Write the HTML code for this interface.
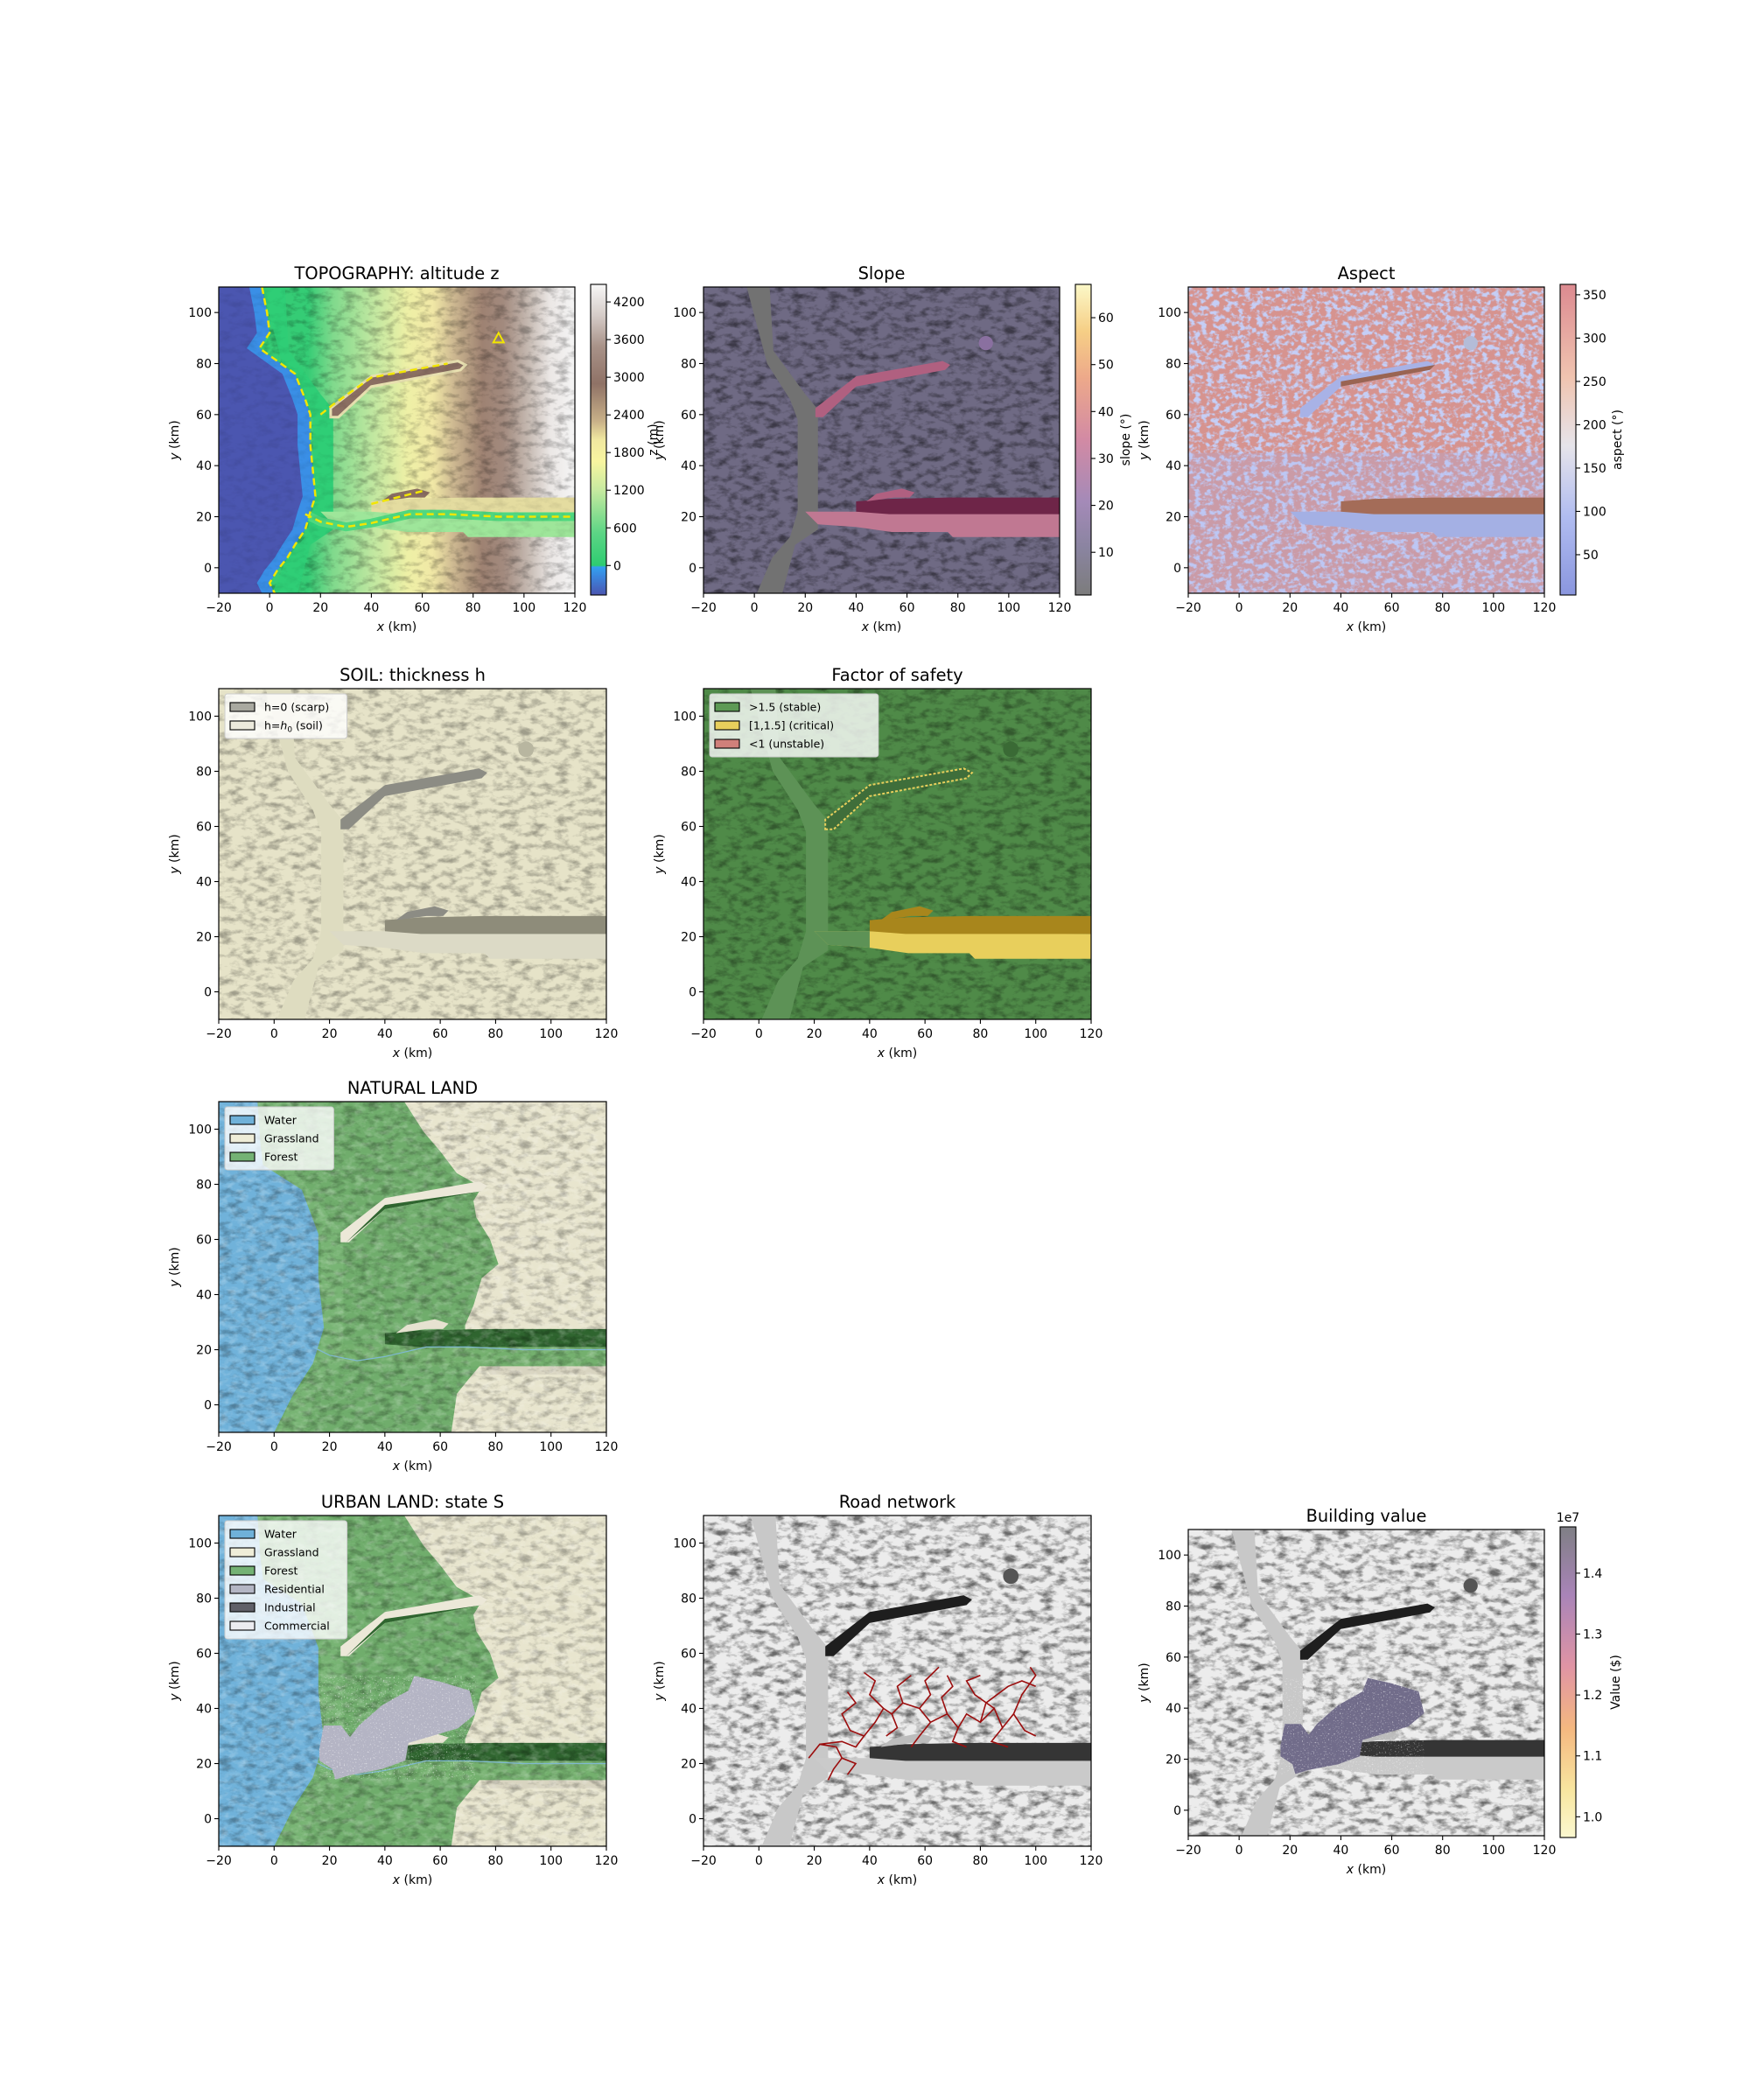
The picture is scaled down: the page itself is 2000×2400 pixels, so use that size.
<!DOCTYPE html>
<html><head><meta charset="utf-8">
<style>
html,body{margin:0;padding:0;background:#fff;}
svg{display:block;font-family:"DejaVu Sans","Liberation Sans",sans-serif;}
</style></head>
<body>
<svg id="fig" width="2000" height="2400" viewBox="0 0 2000 2400" xmlns="http://www.w3.org/2000/svg">
<defs>
<filter id="hs" x="0" y="0" width="1" height="1"><feTurbulence type="fractalNoise" baseFrequency="0.07 0.13" numOctaves="4" seed="7"/><feColorMatrix type="matrix" values="0 0 0 0 0  0 0 0 0 0  0 0 0 0 0  0 0 -2.6 0 1.45"/></filter>
<filter id="hl" x="0" y="0" width="1" height="1"><feTurbulence type="fractalNoise" baseFrequency="0.09 0.15" numOctaves="3" seed="11"/><feColorMatrix type="matrix" values="0 0 0 0 1  0 0 0 0 1  0 0 0 0 1  0 0 2.4 0 -1.1"/></filter>
<filter id="asp" x="0" y="0" width="1" height="1"><feTurbulence type="fractalNoise" baseFrequency="0.14 0.18" numOctaves="3" seed="4"/><feColorMatrix type="matrix" values="0 0 0 0 0.56  0 0 0 0 0.62  0 0 0 0 0.92  5 0 0 0 -2.3"/></filter>
<filter id="speck" x="0" y="0" width="1" height="1"><feTurbulence type="fractalNoise" baseFrequency="0.6" numOctaves="1" seed="2"/><feColorMatrix type="matrix" values="0 0 0 0 1  0 0 0 0 1  0 0 0 0 1  0 0 6 0 -3.6"/></filter>
<linearGradient id="topoX" x1="0" x2="1" y1="0" y2="0">
<stop offset="0" stop-color="#35cc75"/><stop offset="0.25" stop-color="#35cc75"/><stop offset="0.32" stop-color="#7fd98c"/><stop offset="0.43" stop-color="#bfe7a0"/><stop offset="0.53" stop-color="#eef0a6"/><stop offset="0.6" stop-color="#f1e8a6"/><stop offset="0.66" stop-color="#cdb891"/><stop offset="0.74" stop-color="#9e8272"/><stop offset="0.8" stop-color="#a28a7e"/><stop offset="0.87" stop-color="#c6bab2"/><stop offset="0.93" stop-color="#ebe7e5"/><stop offset="1" stop-color="#f5f5f5"/></linearGradient>
<linearGradient id="cbTopo" x1="0" x2="0" y1="1" y2="0">
<stop offset="0" stop-color="#4b55b0"/><stop offset="0.06" stop-color="#3a86de"/><stop offset="0.09" stop-color="#33a0f0"/><stop offset="0.095" stop-color="#2ecc71"/><stop offset="0.2" stop-color="#5cd585"/><stop offset="0.34" stop-color="#c8eaa0"/><stop offset="0.43" stop-color="#f8f5a0"/><stop offset="0.5" stop-color="#f0e8a0"/><stop offset="0.56" stop-color="#c8b088"/><stop offset="0.68" stop-color="#8f7266"/><stop offset="0.8" stop-color="#a89288"/><stop offset="0.9" stop-color="#d5ccc8"/><stop offset="1" stop-color="#f7f7f7"/></linearGradient>
<linearGradient id="cbSlope" x1="0" x2="0" y1="1" y2="0">
<stop offset="0" stop-color="#7c7c7c"/><stop offset="0.15" stop-color="#8a84a0"/><stop offset="0.3" stop-color="#a48ab8"/><stop offset="0.5" stop-color="#d28aa4"/><stop offset="0.7" stop-color="#eda98a"/><stop offset="0.85" stop-color="#f6cf86"/><stop offset="1" stop-color="#fbf8c8"/></linearGradient>
<linearGradient id="cbAsp" x1="0" x2="0" y1="1" y2="0">
<stop offset="0" stop-color="#8a96de"/><stop offset="0.25" stop-color="#b0bcf0"/><stop offset="0.48" stop-color="#e6e4ea"/><stop offset="0.7" stop-color="#f0c4b0"/><stop offset="1" stop-color="#dc8a90"/></linearGradient>
<linearGradient id="cbVal" x1="0" x2="0" y1="1" y2="0">
<stop offset="0" stop-color="#fbf8d0"/><stop offset="0.15" stop-color="#f8e6a0"/><stop offset="0.35" stop-color="#f4b880"/><stop offset="0.55" stop-color="#e094a4"/><stop offset="0.78" stop-color="#a984b8"/><stop offset="1" stop-color="#7f7f85"/></linearGradient>
</defs>
</svg>
<script>
// ---- axis ticks ----
const xTicks = [-20, 0, 20, 40, 60, 80, 100, 120];
const yTicks = [0, 20, 40, 60, 80, 100];
// ---- map geometry (km) ----
const coast = [[-3,110],[-1,100],[0,92],[-4,86],[3,81],[10,76],[14,66],[16,60],[16,48],[17,38],[18,28],[16,22],[14,15],[10,9],[7,4],[3,-1],[0,-6],[2,-10]];
const valley = [[-3,110],[6,110],[7.5,85],[20,68],[25,62],[25,28],[25,15],[16,9],[11,-10],[1,-10],[7,4],[14,12],[17,22],[17,58],[14,66],[5,80]];
const lightBand = [[20,22],[40,22],[120,21],[120,12],[78,12],[76,14],[54,14],[40,16],[25,17]];
const darkBand = [[40,22],[53,21],[120,21],[120,27.5],[76,27.5],[53,27],[40,26]];
const scarp = [[24,59],[27,59],[40,71],[75,77.5],[77,79.5],[74,81],[40,75],[24,62.5]];
const smallRidge = [[44,26],[55,27.5],[61,27.5],[63,29.5],[58,31],[48,29]];
const bump = [91, 88, 2.8];
const forest = [[-20,110],[47,110],[54,99],[60,92],[66,84],[75,79],[72,74],[73,68],[78,60],[81,51],[75,46],[72,36],[69,29],[69,27],[120,27],[120,15],[75,15],[70,9],[66,4],[64,-10],[-20,-10]];
const waterLand = [[-20,110],[-6,110],[-5,95],[-4,87],[10,78],[16,62],[16,46],[18,28],[14,15],[7,4],[0,-10],[-20,-10]];
const residential = [[16.3,25.3],[17.9,33.8],[24.2,33.8],[27.4,29.6],[30.6,33.8],[39,41.2],[48.5,46.5],[50.6,51.8],[60,49.7],[70.6,46.5],[72.7,38],[66.4,32.8],[48.5,27.5],[47.4,21.1],[39,18],[27.4,15.8],[22.1,14.2],[21,18],[16.3,21.1]];
const channelLine = [[14,21],[20,18],[30,16],[40,17.5],[55,21],[70,21],[90,20],[120,20]];
const scarpLine = [[20,60],[25,64],[40,74.5],[70,80]];
const smallLine = [[40,25],[60,30]];
const roads = [
 [[18,22],[22,27],[28,26],[30,22],[27,18],[25,14]],
 [[22,27],[30,28],[35,26],[38,30],[42,35],[45,40],[48,38],[52,42],[50,48],[55,52]],
 [[45,40],[40,45],[42,50],[38,53]],
 [[52,42],[58,40],[62,45],[60,50],[65,55]],
 [[58,40],[62,35],[68,38],[72,33],[75,38],[80,35],[85,40],[88,33],[92,38],[95,45],[100,52],[98,55]],
 [[72,33],[70,28],[75,26]],
 [[80,35],[82,42],[86,45],[90,48],[95,50],[100,48]],
 [[62,35],[58,30],[55,26]],
 [[38,30],[33,32],[30,38],[35,42],[32,46]],
 [[85,40],[78,45],[75,50],[80,52]],
 [[92,38],[96,32],[100,30]],
 [[68,38],[66,44],[70,48],[68,52]],
 [[30,22],[35,20],[32,16]],
 [[88,33],[84,28],[90,26]],
 [[48,38],[50,33],[46,30]]
];
// ---- colorbar data ----
const topoTicks = [0, 600, 1200, 1800, 2400, 3000, 3600, 4200];
const slopeTicks = [10, 20, 30, 40, 50, 60];
const aspTicks = [50, 100, 150, 200, 250, 300, 350];
const valTicks = [1.0, 1.1, 1.2, 1.3, 1.4];
const valLabels = ["1.0","1.1","1.2","1.3","1.4"];

const NS = "http://www.w3.org/2000/svg";
const fig = document.getElementById('fig');
function el(tag, attrs, parent){ const e=document.createElementNS(NS,tag); for(const k in attrs) e.setAttribute(k,attrs[k]); if(parent) parent.appendChild(e); return e; }
function tag(e, name, inter){
  
  
  return e;
}
function txt(parent, s, attrs){ const t=el('text',attrs,parent); t.textContent=s; return t; }

function makePanel(cfg){
  const W=cfg.w, H=cfg.h;
  const X = x => (x+20)/140*W;
  const Y = y => (110-y)/120*H;
  const P = pts => pts.map(p=>X(p[0]).toFixed(1)+','+Y(p[1]).toFixed(1)).join(' ');
  const g = tag(el('g',{transform:`translate(${cfg.left},${cfg.top})`},fig), cfg.name+'-panel');
  const cid = 'clip-'+cfg.name;
  const cp = el('clipPath',{id:cid},g); el('rect',{x:0,y:0,width:W,height:H},cp);
  const plot = tag(el('g',{'clip-path':`url(#${cid})`},g), cfg.name+'-map');
  const api = {
    poly:(pts,fill,name,extra)=>{ const e=el('polygon',Object.assign({points:P(pts),fill:fill},extra||{}),plot); tag(e,name); return e; },
    line:(pts,stroke,w,name,extra)=>{ const e=el('polyline',Object.assign({points:P(pts),fill:'none',stroke:stroke,'stroke-width':w},extra||{}),plot); tag(e,name); return e; },
    rect:(fill,name,extra)=>{ const e=el('rect',Object.assign({x:0,y:0,width:W,height:H,fill:fill},extra||{}),plot); tag(e,name); return e; },
    circle:(cx,cy,r,fill,name,extra)=>{ const e=el('circle',Object.assign({cx:X(cx),cy:Y(cy),r:r*W/140,fill:fill},extra||{}),plot); tag(e,name); return e; },
    X:X, Y:Y, P:P, plot:plot
  };
  cfg.draw(api);
  tag(el('rect',{x:0,y:0,width:W,height:H,fill:'none',stroke:'#000','stroke-width':1.2},g),'axes-frame');
  const ax = tag(el('g',{'font-size':14,fill:'#000'},g),'x-axis');
  xTicks.forEach(v=>{
    const x=X(v);
    el('line',{x1:x,x2:x,y1:H,y2:H+5,stroke:'#000','stroke-width':1.1},ax);
    txt(ax,(v<0?'\u2212'+(-v):String(v)),{x:x,y:H+21,'text-anchor':'middle'});
  });
  const xl = txt(g,'',{x:W/2,y:H+43,'text-anchor':'middle','font-size':14});
  tag(xl,'x-axis-title');
  const xi=el('tspan',{'font-style':'italic'},xl); xi.textContent='x'; const xr=el('tspan',{},xl); xr.textContent=' (km)';
  const ay = tag(el('g',{'font-size':14,fill:'#000'},g),'y-axis');
  yTicks.forEach(v=>{
    const y=Y(v);
    el('line',{x1:-5,x2:0,y1:y,y2:y,stroke:'#000','stroke-width':1.1},ay);
    txt(ay,String(v),{x:-8,y:y+5,'text-anchor':'end'});
  });
  const yl = txt(g,'',{x:0,y:0,'text-anchor':'middle','font-size':14,transform:`translate(-46,${H/2}) rotate(-90)`});
  tag(yl,'y-axis-title');
  const yi=el('tspan',{'font-style':'italic'},yl); yi.textContent='y'; const yr=el('tspan',{},yl); yr.textContent=' (km)';
  tag(txt(g,cfg.title,{x:W/2,y:-9,'text-anchor':'middle','font-size':19.4}),'chart-title');
  if(cfg.legend){
    const lg = tag(el('g',{},g),'legend');
    const maxLen = Math.max(...cfg.legend.map(e=>e[1].length));
    const bw = 56 + maxLen*7.6, bh = cfg.legend.length*21+9;
    el('rect',{x:7,y:6,width:bw,height:bh,rx:3,fill:'#fff','fill-opacity':0.8,stroke:'#cccccc','stroke-width':1},lg);
    cfg.legend.forEach((e,i)=>{
      const cy = 18+i*21+3;
      const ent = tag(el('g',{},lg),'legend-entry');
      el('rect',{x:13,y:cy-5,width:28,height:10,fill:e[0],stroke:'#000','stroke-width':1.1},ent);
      const t = txt(ent,'',{x:52,y:cy+4.5,'font-size':12.5});
      if(e[2]){ const a=el('tspan',{},t); a.textContent='h='; const b=el('tspan',{'font-style':'italic'},t); b.textContent='h'; const c=el('tspan',{'font-size':9,dy:3},t); c.textContent='0'; const d=el('tspan',{dy:-3},t); d.textContent=' (soil)'; }
      else t.textContent=e[1];
    });
  }
  if(cfg.cb){
    const c=cfg.cb; const cbx=W+18, cby=-3, cbh=H+5, cbw=18;
    const cg = tag(el('g',{},g),'colorbar');
    el('rect',{x:cbx,y:cby,width:cbw,height:cbh,fill:`url(#${c.grad})`},cg);
    el('rect',{x:cbx,y:cby,width:cbw,height:cbh,fill:'none',stroke:'#000','stroke-width':1.1},cg);
    const CY = v => cby + (c.vmax-v)/(c.vmax-c.vmin)*cbh;
    c.ticks.forEach((v,i)=>{
      const y=CY(v);
      el('line',{x1:cbx+cbw,x2:cbx+cbw+5,y1:y,y2:y,stroke:'#000','stroke-width':1.1},cg);
      txt(cg,c.labels?c.labels[i]:String(v),{x:cbx+cbw+8,y:y+5,'font-size':14});
    });
    const lab = txt(cg,c.label,{x:0,y:0,'text-anchor':'middle','font-size':14,transform:`translate(${cbx+cbw+c.labOff},${cby+cbh/2}) rotate(-90)`});
    tag(lab,'colorbar-label');
    if(c.offset) tag(txt(cg,c.offset,{x:cbx+cbw/2,y:cby-6,'text-anchor':'middle','font-size':14}),'colorbar-offset');
  }
}

function commonDark(a, base, chan, band1, band2, scarpCol, noiseOp){
  a.rect(base,'background');
  a.rect('#000','hillshade',{filter:'url(#hs)',opacity:noiseOp});
  a.poly(valley,chan,'valley-channel');
  a.poly(lightBand,band1,'channel-lower-band');
  a.poly(darkBand,band2,'channel-deposit-band');
  a.poly(scarp,scarpCol,'scarp');
  a.poly(smallRidge,scarpCol,'small-scarp');
}

makePanel({name:'topography',left:250,top:328,w:407,h:350,title:'TOPOGRAPHY: altitude z',
 cb:{grad:'cbTopo',vmin:-470,vmax:4480,ticks:topoTicks,label:'z (m)',labOff:58},
 draw:a=>{
  a.rect('url(#topoX)','terrain');
  a.rect('#000','hillshade',{filter:'url(#hs)',opacity:0.2});
  a.poly(valley,'#2fce76','valley-channel');
  a.poly(lightBand,'#9ee69a','channel-lower-band');
  a.poly(darkBand,'#e4dca0','channel-deposit-band');
  a.line(channelLine,'#4fd880',10,'river-bed');
  a.poly(scarp,'#8a6e62','scarp',{stroke:'#e8e0b0','stroke-width':3});
  a.poly(smallRidge,'#8a6e62','small-scarp');
  a.poly(coast.concat([[-20,-10],[-20,110]]),'#3a8fe6','shallow-water');
  a.poly(coast.map(p=>[p[0]-5,p[1]]).concat([[-20,-10],[-20,110]]),'#4b56b0','deep-water');
  a.rect('#000','water-hillshade',{filter:'url(#hs)',opacity:0.08});
  const d={'stroke-dasharray':'8 5'};
  a.line(coast,'#f2e600',2.5,'coastline-contour',d);
  a.line(channelLine,'#f2e600',2.5,'river-contour',d);
  a.line(scarpLine,'#f2e600',2.5,'scarp-contour',d);
  a.line(smallLine,'#f2e600',2.5,'small-scarp-contour',d);
  const tx=a.X(90), ty=a.Y(90);
  tag(el('polygon',{points:`${tx},${ty-6} ${tx-6},${ty+5} ${tx+6},${ty+5}`,fill:'none',stroke:'#f2e600','stroke-width':2},a.plot),'summit-marker');
 }});

makePanel({name:'slope',left:804,top:328,w:407,h:350,title:'Slope',
 cb:{grad:'cbSlope',vmin:0.9,vmax:67.1,ticks:slopeTicks,label:'slope (\u00b0)',labOff:44},
 draw:a=>{
  commonDark(a,'#6f6a84','#727272','#c07892','#6e2548','#b06080',0.45);
  a.circle(bump[0],bump[1],bump[2],'#8a70a0','peak-bump');
 }});

makePanel({name:'aspect',left:1358,top:328,w:407,h:350,title:'Aspect',
 cb:{grad:'cbAsp',vmin:3.5,vmax:362,ticks:aspTicks,label:'aspect (\u00b0)',labOff:52},
 draw:a=>{
  a.rect('#d6938f','aspect-base');
  a.rect('#000','aspect-noise',{filter:'url(#asp)'});
  a.rect('#a8b4ee','aspect-lower-tint',{y:a.Y(45),height:a.Y(-10)-a.Y(45),opacity:0.25});
  a.poly(lightBand,'#a4b0e4','channel-lower-band');
  a.poly(darkBand,'#a46c58','channel-deposit-band');
  a.poly(scarp,'#a8b2e6','scarp');
  a.poly([[40,71],[75,77.5],[77,79.5],[40,73]],'#9a6452','scarp-shadow');
  a.circle(bump[0],bump[1],bump[2],'#b4bcd8','peak-bump');
 }});

makePanel({name:'soil',left:250,top:787,w:443,h:378,title:'SOIL: thickness h',
 legend:[['#a9a9a0','h=0 (scarp)'],['#eceadc','h=h0 (soil)',true]],
 draw:a=>{
  commonDark(a,'#e6e3c8','#dedcc0','#dcdac6','#8e8c7a','#8c8c84',0.3);
  a.circle(bump[0],bump[1],bump[2],'#b8b6a0','peak-bump');
 }});

makePanel({name:'factor-of-safety',left:804,top:787,w:443,h:378,title:'Factor of safety',
 legend:[['#5e9a55','>1.5 (stable)'],['#e8cf5c','[1,1.5] (critical)'],['#d0807a','<1 (unstable)']],
 draw:a=>{
  a.rect('#4f8a48','background');
  a.rect('#000','hillshade',{filter:'url(#hs)',opacity:0.35});
  a.poly(valley,'#5d9256','valley-channel');
  a.poly(lightBand,'#e8cf5c','channel-lower-band');
  a.poly([[20,22],[40,22],[40,16],[25,17]],'#5d9256','channel-lower-left');
  a.poly(darkBand,'#a8861c','channel-deposit-band');
  a.poly(scarp,'#3f6e3a','scarp',{stroke:'#e8cf5c','stroke-width':2,'stroke-dasharray':'3 2'});
  a.poly(smallRidge,'#a8861c','small-scarp');
  a.circle(bump[0],bump[1],bump[2],'#3a6a35','peak-bump');
 }});

function landDraw(a, urban){
  a.rect('#e8e5ce','grassland');
  a.poly(forest,'#70ad6c','forest');
  a.poly(valley,'#78b474','valley-channel');
  a.poly(lightBand,'#74b06e','channel-lower-band');
  a.poly([[76,14],[120,14],[120,11],[78,11]],'#d8d4c0','channel-bank');
  a.poly(darkBand,'#2f652f','channel-deposit-band');
  a.poly(waterLand,'#70b2da','water');
  a.rect('#000','hillshade',{filter:'url(#hs)',opacity:0.28});
  a.rect('#fff','highlights',{filter:'url(#hl)',opacity:0.25});
  a.poly(scarp,'#ece8d8','scarp');
  a.poly([[26,59],[40,71],[75,77.5],[40,72.5]],'#2f652f','scarp-shadow');
  a.poly(smallRidge,'#e6e2d0','small-scarp');
  a.line(channelLine,'#7fb8d0',1.2,'river');
  if(urban){
    a.poly(residential,'#b4b4c4','residential-area');
    a.poly(residential,'#000','residential-speckle',{filter:'url(#speck)',opacity:0.5});
  }
}
makePanel({name:'natural-land',left:250,top:1259,w:443,h:378,title:'NATURAL LAND',
 legend:[['#6fb1d9','Water'],['#efedd8','Grassland'],['#74b274','Forest']],
 draw:a=>landDraw(a,false)});

makePanel({name:'urban-land',left:250,top:1732,w:443,h:378,title:'URBAN LAND: state S',
 legend:[['#6fb1d9','Water'],['#efedd8','Grassland'],['#74b274','Forest'],['#b4b6c4','Residential'],['#606068','Industrial'],['#ececf0','Commercial']],
 draw:a=>landDraw(a,true)});

function grayDraw(a){
  a.rect('#ececec','background');
  a.rect('#000','hillshade',{filter:'url(#hs)',opacity:0.55});
  a.poly(valley,'#c8c8c8','valley-channel');
  a.poly(lightBand,'#cacaca','channel-lower-band');
  a.poly(darkBand,'#353535','channel-deposit-band');
  a.poly(scarp,'#1e1e1e','scarp');
  a.poly(smallRidge,'#bcbcbc','small-scarp');
  a.circle(bump[0],bump[1],bump[2],'#555','peak-bump');
}
makePanel({name:'road-network',left:804,top:1732,w:443,h:378,title:'Road network',
 draw:a=>{
  grayDraw(a);
  roads.forEach((r,i)=>{ a.line(r,'#9b0d0d',1.6,'road-segment'); });
 }});

makePanel({name:'building-value',left:1358,top:1748,w:407,h:350,title:'Building value',
 cb:{grad:'cbVal',vmin:0.966,vmax:1.476,ticks:valTicks,labels:valLabels,label:'Value ($)',labOff:50,offset:'1e7'},
 draw:a=>{
  grayDraw(a);
  a.poly(residential,'#716c8a','building-cluster');
  a.poly(residential,'#fff','building-speckle',{filter:'url(#speck)',opacity:0.5});
 }});
</script>
</body></html>
